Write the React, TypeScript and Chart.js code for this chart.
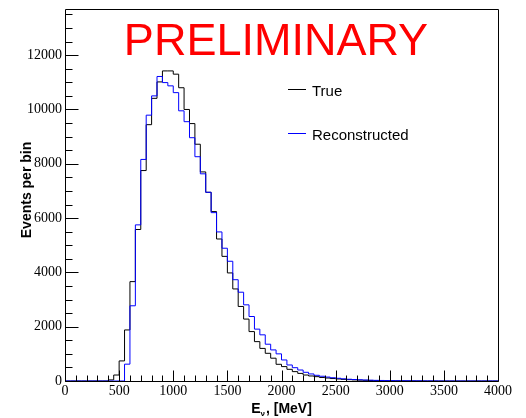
import React, { useEffect, useRef } from 'react';
import { Chart, registerables } from 'chart.js';

Chart.register(...registerables);

// ---- data ----
const X_MIN = 0;
const X_MAX = 4000;
const BIN_WIDTH = 50; // MeV per bin
const Y_MAX = 13700;
const X_MAJOR_STEP = 500;
const X_MINOR_STEP = 100;
const Y_MAJOR_STEP = 2000;
const Y_MINOR_STEP = 500;
const yTickLabels = [0, 2000, 4000, 6000, 8000, 10000, 12000];

const seriesLabels = ['True', 'Reconstructed'];
const seriesColors = ['#000000', '#0000ff'];

// counts per 50 MeV bin, bins 0..79 (0 - 4000 MeV)
const trueCounts = [
  0, 0, 0, 0, 0, 0, 0, 0, 40, 220,
  740, 1880, 3660, 5580, 7750, 9440, 10410, 11015, 11420, 11420,
  11300, 10800, 10000, 9480, 8720, 7700, 6950, 6240, 5230, 4590,
  3980, 3390, 2745, 2280, 1820, 1450, 1200, 1020, 840, 615,
  530, 430, 345, 280, 220, 185, 160, 130, 110, 90,
  75, 60, 50, 40, 32, 25, 20, 16, 12, 10,
  8, 6, 5, 4, 3, 2, 0, 0, 0, 0,
  0, 0, 0, 0, 0, 0, 0, 0, 0, 0,
];

const recoCounts = [
  0, 0, 0, 0, 0, 0, 0, 0, 0, 0,
  0, 620, 2770, 5750, 8160, 9790, 10500, 11215, 10990, 10870,
  10620, 9950, 9550, 8960, 8260, 7630, 6950, 6200, 5490, 4890,
  4410, 3730, 3270, 2805, 2375, 1910, 1700, 1355, 1145, 1000,
  775, 590, 490, 405, 320, 260, 210, 175, 145, 120,
  100, 80, 65, 55, 45, 36, 30, 24, 20, 16,
  13, 10, 8, 7, 6, 5, 4, 3, 2, 0,
  0, 0, 0, 0, 0, 0, 0, 0, 0, 0,
];

function toSteps(counts: number[]) {
  const pts = counts.map((v, i) => ({ x: X_MIN + i * BIN_WIDTH, y: v }));
  pts.push({ x: X_MIN + counts.length * BIN_WIDTH, y: counts[counts.length - 1] });
  return pts;
}

const SANS = '"Liberation Sans", Arial, sans-serif';
const SERIF = '"Liberation Serif", "Times New Roman", serif';

const rootStyle = {
  id: 'rootStyle',
  afterDatasetsDraw(chart: any) {
    const { ctx, chartArea: a, scales } = chart;
    const xs = scales.x;
    const ys = scales.y;
    ctx.save();
    ctx.strokeStyle = '#000';
    ctx.lineWidth = 1;
    const L = Math.round(a.left) + 0.5;
    const R = Math.round(a.right) + 0.5;
    const T = Math.round(a.top) + 0.5;
    const B = Math.round(a.bottom) + 0.5;
    ctx.beginPath();
    ctx.rect(L, T, R - L, B - T);
    ctx.stroke();

    ctx.beginPath();
    for (let v = X_MIN; v <= X_MAX; v += X_MINOR_STEP) {
      const px = Math.round(xs.getPixelForValue(v)) + 0.5;
      const len = v % X_MAJOR_STEP === 0 ? 11 : 6;
      ctx.moveTo(px, B);
      ctx.lineTo(px, B - len);
    }
    for (let v = 0; v <= Y_MAX; v += Y_MINOR_STEP) {
      const py = Math.round(ys.getPixelForValue(v)) + 0.5;
      const len = v % Y_MAJOR_STEP === 0 ? 13 : 7;
      ctx.moveTo(L, py);
      ctx.lineTo(L + len, py);
    }
    ctx.stroke();

    // y tick labels
    ctx.fillStyle = '#000';
    ctx.font = `14px ${SERIF}`;
    ctx.textAlign = 'right';
    ctx.textBaseline = 'middle';
    for (const v of yTickLabels) {
      ctx.fillText(String(v), a.left - 3, ys.getPixelForValue(v));
    }

    // PRELIMINARY
    ctx.fillStyle = '#ff0000';
    ctx.font = `45px ${SANS}`;
    ctx.textAlign = 'center';
    ctx.textBaseline = 'alphabetic';
    ctx.fillText('PRELIMINARY', 276, 55);

    // legend
    const legendY = [89, 133];
    ctx.font = `15px ${SANS}`;
    ctx.textAlign = 'left';
    ctx.textBaseline = 'middle';
    for (let i = 0; i < seriesLabels.length; i++) {
      ctx.strokeStyle = seriesColors[i];
      ctx.beginPath();
      ctx.moveTo(288, legendY[i] + 0.5);
      ctx.lineTo(306, legendY[i] + 0.5);
      ctx.stroke();
      ctx.fillStyle = '#000';
      ctx.fillText(seriesLabels[i], 312, legendY[i] + 2.5);
    }

    // y title
    ctx.save();
    ctx.translate(27, 190);
    ctx.rotate(-Math.PI / 2);
    ctx.font = `bold 14px ${SANS}`;
    ctx.textAlign = 'center';
    ctx.textBaseline = 'middle';
    ctx.fillStyle = '#000';
    ctx.fillText('Events per bin', 0, 0);
    ctx.restore();

    // x title: E_nu, [MeV]
    ctx.fillStyle = '#000';
    ctx.textAlign = 'left';
    ctx.textBaseline = 'alphabetic';
    const bigFont = `bold 14px ${SANS}`;
    const smallFont = `bold 8px ${SANS}`;
    ctx.font = bigFont;
    const wE = ctx.measureText('E').width;
    const rest = ', [MeV]';
    const wRest = ctx.measureText(rest).width;
    ctx.font = smallFont;
    const wNu = ctx.measureText('ν').width;
    const total = wE + wNu + 1 + wRest;
    let x0 = (a.left + a.right) / 2 - total / 2;
    const base = 413;
    ctx.font = bigFont;
    ctx.fillText('E', x0, base);
    x0 += wE;
    ctx.font = smallFont;
    ctx.fillText('ν', x0, base + 3);
    x0 += wNu + 1;
    ctx.font = bigFont;
    ctx.fillText(rest, x0, base);
    ctx.restore();
  },
};

export default function App() {
  const ref = useRef<HTMLCanvasElement | null>(null);
  useEffect(() => {
    if (!ref.current) return;
    const chart = new Chart(ref.current, {
      type: 'line',
      data: {
        datasets: [
          {
            label: seriesLabels[0],
            data: toSteps(trueCounts),
            borderColor: seriesColors[0],
            borderWidth: 1,
            pointRadius: 0,
            stepped: true,
            fill: false,
            order: 1,
            clip: false as any,
          },
          {
            label: seriesLabels[1],
            data: toSteps(recoCounts),
            borderColor: seriesColors[1],
            borderWidth: 1,
            pointRadius: 0,
            stepped: true,
            fill: false,
            order: 0,
            clip: false as any,
          },
        ],
      },
      options: {
        animation: false,
        responsive: false,
        events: [],
        layout: { padding: { top: 9, right: 28, left: 0, bottom: 0 } },
        plugins: { legend: { display: false }, tooltip: { enabled: false }, title: { display: false } },
        scales: {
          x: {
            type: 'linear',
            min: X_MIN,
            max: X_MAX,
            grid: { display: false, drawTicks: false },
            border: { display: false },
            ticks: {
              stepSize: X_MAJOR_STEP,
              autoSkip: false,
              maxRotation: 0,
              padding: 2,
              color: '#000',
              font: { family: SERIF, size: 14 },
              callback: (v: any) => String(v),
            },
            afterFit: (s: any) => { s.height = 37; },
          },
          y: {
            type: 'linear',
            min: 0,
            max: Y_MAX,
            grid: { display: false, drawTicks: false },
            border: { display: false },
            ticks: { display: false, stepSize: Y_MAJOR_STEP },
            afterFit: (s: any) => { s.width = 65; },
          },
        },
      },
      plugins: [rootStyle],
    } as any);
    return () => chart.destroy();
  }, []);
  return (
    <div style={{ position: 'absolute', left: 0, top: 0, width: 526, height: 418, background: '#fff' }}>
      <canvas ref={ref} width={526} height={418} />
    </div>
  );
}
